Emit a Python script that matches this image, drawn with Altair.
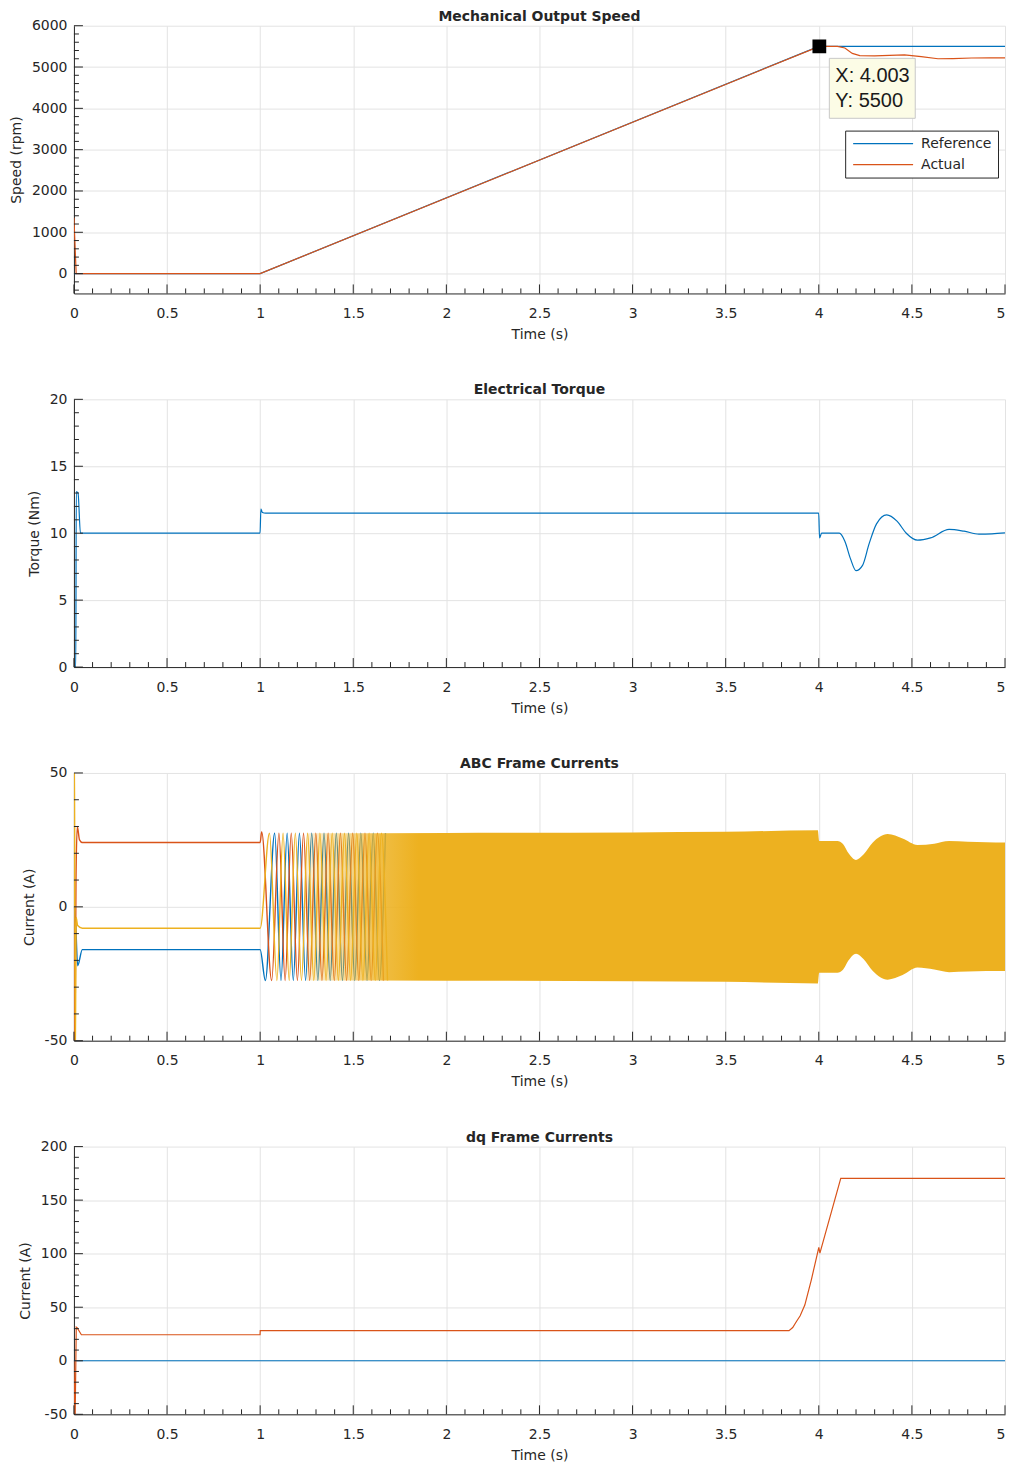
import altair as alt
import pandas as pd

BLUE = "#0072BD"
ORANGE = "#D95319"
YELLOW = "#EDB120"
TXT = "#262626"
GRID = "#e3e3e3"
FONT = "DejaVu Sans"
W, H = 932, 268

# ---------------- data ----------------
# Panel 1: mechanical speed
speed_ref_t = [0, 1, 4, 5]
speed_ref_v = [0, 0, 5500, 5500]
speed_act_t = [0, 0.012, 1, 4.003, 4.1, 4.14, 4.18, 4.22, 4.3, 4.38, 4.46, 4.55, 4.64, 4.72, 4.82, 4.92, 5.0]
speed_act_v = [1350, 0, 0, 5500, 5500, 5460, 5330, 5275, 5272, 5283, 5292, 5250, 5200, 5205, 5218, 5222, 5222]
marker_t = [4.003]
marker_v = [5500]

# Panel 2: electrical torque
torque_t = [0, 0.010, 0.0125, 0.022, 0.035, 0.9995, 1.004, 1.012, 1.03, 3.9995, 4.004, 4.015, 4.03,
            4.11, 4.14, 4.17, 4.2, 4.235, 4.27, 4.31, 4.365, 4.42, 4.47, 4.53, 4.6, 4.7, 4.78, 4.86, 4.93, 5.0]
torque_v = [0, 0, 13.1, 13.0, 10.0, 10.0, 11.8, 11.55, 11.5, 11.5, 9.65, 10.0, 10.0,
            10.0, 9.4, 8.1, 7.2, 7.6, 9.2, 10.7, 11.37, 10.9, 10.0, 9.48, 9.65, 10.28, 10.15, 9.93, 9.95, 10.02]

# Panel 3: abc currents (start-up segment of each phase)
ia_t = [0, 0.008, 0.02, 0.045, 1.0]
ia_v = [0, -4, -22, -16, -16]
ib_t = [0, 0.005, 0.011, 0.018, 0.03, 0.045, 1.0, 1.008]
ib_v = [0, -60, 10, 30, 25, 24, 24, 28]
ic_t = [0, 0.003, 0.007, 0.012, 0.02, 0.045, 1.0]
ic_v = [0, 60, -60, -4, -7, -8, -8]
# successive peak times after t = 1 s (phase order a-, c+, b-, a+, c-, b+ ...)
peak_t = [1.028, 1.050, 1.062, 1.078, 1.090, 1.101, 1.112, 1.123, 1.134, 1.145, 1.156, 1.167,
          1.178, 1.189, 1.200, 1.211, 1.222, 1.233, 1.244, 1.255, 1.266, 1.277, 1.288, 1.299,
          1.310, 1.321, 1.332, 1.343, 1.354, 1.365, 1.376, 1.387, 1.398, 1.409, 1.420, 1.431,
          1.442, 1.453, 1.464, 1.475, 1.486, 1.497, 1.508, 1.519, 1.530, 1.541, 1.552, 1.563,
          1.574, 1.585, 1.596, 1.607, 1.618, 1.629, 1.640, 1.651, 1.662, 1.673, 1.684]
peak_amp = 27.5
# envelope of the dense oscillation
band_t = [1.25, 2.0, 3.0, 3.5, 3.995, 4.002, 4.1, 4.13, 4.16, 4.2, 4.24, 4.29, 4.37, 4.45, 4.53, 4.62, 4.7, 4.8, 4.9, 5.0]
band_hi = [27.5, 27.6, 27.8, 28.0, 28.6, 24.6, 24.6, 23.5, 20.0, 17.5, 19.5, 24.0, 27.2, 25.5, 23.1, 23.6, 24.6, 24.3, 24.1, 24.0]
band_lo = [-27.5, -27.6, -27.8, -28.0, -28.6, -24.6, -24.6, -23.5, -20.0, -17.5, -19.5, -24.0, -27.2, -25.5, -22.7, -23.4, -24.4, -24.2, -24.0, -24.0]

# Panel 4: dq currents
id_t = [0, 5]
id_v = [0, 0]
iq_t = [0, 0.006, 0.0125, 0.017, 0.04, 0.9995, 1.0005, 3.84, 3.86, 3.88, 3.9, 3.925, 3.96, 3.995, 4.0, 4.006, 4.118, 5.0]
iq_v = [0, -60, 31.5, 31, 24.3, 24.3, 28.1, 28.1, 31, 36.7, 42, 52, 75.6, 102, 106, 100.5, 170.4, 170.4]

# ---------------- ticks ----------------
x_major = [0, 0.5, 1, 1.5, 2, 2.5, 3, 3.5, 4, 4.5, 5]
x_minor = [round(i * 0.1, 1) for i in range(51) if i % 5 != 0]


def df(t, v, **extra):
    d = pd.DataFrame({"t": t, "v": v})
    d["i"] = range(len(d))
    for k, val in extra.items():
        d[k] = val
    return d


def make_panel(title, ytitle, ydom, ymajor, yminor, layers):
    X = alt.X("t:Q", scale=alt.Scale(domain=[0, 5], nice=False, zero=False),
              axis=alt.Axis(values=x_major, labelExpr="'' + datum.value", title="Time (s)",
                            labelFlush=False,
                            labelAlign={"expr": "datum.value == 5 ? 'right' : 'center'"}))
    Y = alt.Y("v:Q", scale=alt.Scale(domain=ydom, nice=False, zero=False),
              axis=alt.Axis(values=ymajor, labelExpr="'' + datum.value", title=ytitle,
                            labelFlush=False))
    charts = [lay(X, Y) for lay in layers]
    # inward tick marks
    tx_maj = alt.Chart(pd.DataFrame({"t": x_major})).mark_rule(color=TXT, strokeWidth=1).encode(
        x=X, y=alt.value(H), y2=alt.value(H - 9))
    tx_min = alt.Chart(pd.DataFrame({"t": x_minor})).mark_rule(color=TXT, strokeWidth=1).encode(
        x=X, y=alt.value(H), y2=alt.value(H - 5))
    ty_maj = alt.Chart(pd.DataFrame({"v": ymajor})).mark_rule(color=TXT, strokeWidth=1).encode(
        y=Y, x=alt.value(0), x2=alt.value(9))
    ty_min = alt.Chart(pd.DataFrame({"v": yminor})).mark_rule(color=TXT, strokeWidth=1).encode(
        y=Y, x=alt.value(0), x2=alt.value(5))
    return alt.layer(*charts, tx_maj, tx_min, ty_maj, ty_min).properties(
        width=W, height=H, title=alt.TitleParams(title, frame="group", offset=-5))


def line(d, color, interp="linear", width=1.2):
    def f(X, Y):
        return alt.Chart(d).mark_line(color=color, strokeWidth=width, clip=True,
                                      interpolate=interp).encode(x=X, y=Y, order="i:Q")
    return f


# ---- panel 1
series_scale = alt.Scale(domain=["Reference", "Actual"], range=[BLUE, ORANGE])
legend = alt.Legend(title=None, orient="none", legendX=772, legendY=105,
                    strokeColor=TXT, fillColor="white", padding=6, cornerRadius=0,
                    symbolType="M-6,0L6,0", symbolSize=100, symbolStrokeWidth=1.3,
                    symbolOffset=25,
                    labelFont=FONT, labelFontSize=14, labelColor=TXT, labelOffset=31,
                    rowPadding=7)


def series_line(d):
    def f(X, Y):
        return alt.Chart(d).mark_line(strokeWidth=1.2, clip=True).encode(
            x=X, y=Y, order="i:Q",
            color=alt.Color("series:N", scale=series_scale, legend=legend))
    return f


def marker(X, Y):
    d = pd.DataFrame({"t": marker_t, "v": marker_v})
    d["label"] = [f"X: {t}\nY: {v}" for t, v in zip(marker_t, marker_v)]
    box = alt.Chart(d).mark_rect(fill="#fcfce6", stroke="#c8c8c8", strokeWidth=1,
                                 xOffset=10, x2Offset=96, yOffset=12, y2Offset=72).encode(
        x=X, x2="t:Q", y=Y, y2="v:Q")
    sq = alt.Chart(d).mark_square(size=190, color="black", opacity=1).encode(x=X, y=Y)
    txt = alt.Chart(d).mark_text(align="left", baseline="middle", dx=16, dy=30, font="Liberation Sans",
                                 fontSize=20, color="#1a1a1a", lineBreak="\n", lineHeight=25).encode(
        x=X, y=Y, text="label:N")
    return alt.layer(box, sq, txt)


p1 = make_panel("Mechanical Output Speed", "Speed (rpm)", [-480, 6000],
                [0, 1000, 2000, 3000, 4000, 5000, 6000],
                [v for v in range(-400, 6001, 200) if v % 1000 != 0],
                [series_line(df(speed_ref_t, speed_ref_v, series="Reference")),
                 series_line(df(speed_act_t, speed_act_v, series="Actual")),
                 marker])

# ---- panel 2
p2 = make_panel("Electrical Torque", "Torque (Nm)", [0, 20], [0, 5, 10, 15, 20],
                [v for v in range(0, 21) if v % 5 != 0],
                [line(df(torque_t, torque_v), BLUE, "monotone")])

# ---- panel 3
phases = {"a": (list(ia_t), list(ia_v)), "b": (list(ib_t), list(ib_v)), "c": (list(ic_t), list(ic_v))}
order = ["a", "c", "b"]
for k, tk in enumerate(peak_t):
    ph = order[k % 3]
    phases[ph][0].append(tk)
    phases[ph][1].append(-peak_amp if k % 2 == 0 else peak_amp)


def band(X, Y):
    d = pd.DataFrame({"t": band_t, "v": band_hi, "v2": band_lo})
    grad = alt.Gradient(gradient="linear", x1=0, x2=1, y1=0, y2=0, stops=[
        alt.GradientStop(color="rgba(237,177,32,0.2)", offset=0),
        alt.GradientStop(color="rgba(237,177,32,0.5)", offset=0.06),
        alt.GradientStop(color="rgba(237,177,32,0.85)", offset=0.11),
        alt.GradientStop(color="rgba(237,177,32,1)", offset=0.16),
        alt.GradientStop(color="rgba(237,177,32,1)", offset=1)])
    return alt.Chart(d).mark_area(color=grad, interpolate="monotone", clip=True).encode(
        x=X, y=Y, y2="v2:Q")


p3 = make_panel("ABC Frame Currents", "Current (A)", [-50, 50], [-50, 0, 50],
                [v for v in range(-50, 51, 10) if v % 50 != 0],
                [line(df(*phases["a"]), BLUE, "monotone", 1.4),
                 line(df(*phases["b"]), ORANGE, "monotone", 1.4),
                 line(df(*phases["c"]), YELLOW, "monotone", 1.4),
                 band])

# ---- panel 4
p4 = make_panel("dq Frame Currents", "Current (A)", [-50, 200], [-50, 0, 50, 100, 150, 200],
                [v for v in range(-50, 201, 10) if v % 50 != 0],
                [line(df(id_t, id_v), BLUE),
                 line(df(iq_t, iq_v), ORANGE)])

chart = alt.vconcat(p1, p2, p3, p4, spacing=42).resolve_scale(
    color="independent").resolve_legend(color="independent").properties(
    padding={"left": 1, "top": 1, "right": 0, "bottom": 0}
).configure_view(stroke=None).configure_axis(
    grid=True, gridColor=GRID, gridWidth=1, domainColor=TXT, domainWidth=1, ticks=False,
    labelFont=FONT, labelFontSize=14, labelColor=TXT, titleFont=FONT, titleFontSize=14,
    titleFontWeight="normal", titleColor=TXT
).configure_axisX(labelPadding=13, titlePadding=7).configure_axisY(
    labelPadding=7, titlePadding=8
).configure_title(font=FONT, fontSize=14, fontWeight="bold", color=TXT, anchor="middle")

chart.save("out.html", embed_options={"renderer": "svg", "actions": False})
